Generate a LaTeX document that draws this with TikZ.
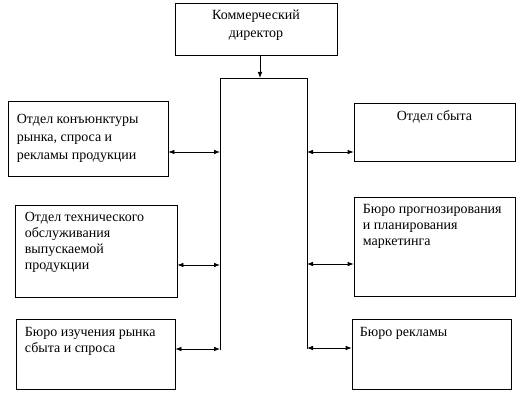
\documentclass[tikz,border=0pt]{standalone}
\usepackage{fontspec}
\setmainfont{Liberation Serif}
\usepackage{tikz}
\usetikzlibrary{fit,arrows.meta}

\tikzset{
  box/.style={draw, inner sep=0pt, line width=0.6pt},
  txt/.style={inner sep=0pt, align=left, anchor=north west, font=\fontsize{10.5}{12.2}\selectfont},
  dbl/.style={{Latex[length=4.5pt,width=3.5pt]}-{Latex[length=4.5pt,width=3.5pt]}, line width=0.6pt},
}

\begin{document}
\begin{tikzpicture}[x=0.75pt, y=-0.75pt]
    \useasboundingbox (0,0) rectangle (527,395);

    % 1. Коммерческий директор (верхний блок)
    \node[box, fit={(175,3) (337,55)}] (kd) {};
    \node[txt, align=center, anchor=north, font=\fontsize{10.5}{13.5}\selectfont] (kdtext) at ([shift={(0,7)}]kd.north) {Коммерческий\\директор};

    % 2. Шина: рамка без нижней стороны
    \coordinate (tl) at (220,78);
    \coordinate (tr) at (307,78);
    \coordinate (bl) at (220,350);
    \coordinate (br) at (307,349);
    \draw[line width=0.6pt] (bl) -- (tl) -- (tr) -- (br);
    \draw[line width=0.6pt, -{Latex[length=4.5pt,width=3.5pt]}] ([xshift=3pt]kd.south) -- ([xshift=3pt]kd.south |- tl);

    % 3. Левые отделы
    \node[box, fit={(8,101) (168,176)}] (o1) {};
    \node[txt, font=\fontsize{10.5}{13.8}\selectfont] (o1text) at ([shift={(9,13)}]o1.north west) {Отдел конъюнктуры\\рынка, спроса и\\рекламы продукции};

    \node[box, fit={(15,205) (177,297)}] (o2) {};
    \node[txt] (o2text) at ([shift={(10,7)}]o2.north west) {Отдел технического\\обслуживания\\выпускаемой\\продукции};

    \node[box, fit={(16,319) (175,389)}] (o3) {};
    \node[txt] (o3text) at ([shift={(9,8)}]o3.north west) {Бюро изучения рынка\\сбыта и спроса};

    % 4. Правые отделы
    \node[box, fit={(354,103) (515,161)}] (r1) {};
    \node[txt, anchor=north] (r1text) at ([shift={(0,8)}]r1.north) {Отдел сбыта};

    \node[box, fit={(354,197) (515,296)}] (r2) {};
    \node[txt] (r2text) at ([shift={(9,7)}]r2.north west) {Бюро прогнозирования\\и планирования\\маркетинга};

    \node[box, fit={(352,319) (511,389)}] (r3) {};
    \node[txt] (r3text) at ([shift={(8,8)}]r3.north west) {Бюро рекламы};

    % 5. Связи с шиной (стрелки в обе стороны)
    \coordinate (l1) at (220,152);
    \coordinate (l2) at (220,265);
    \coordinate (l3) at (220,349);
    \coordinate (p1) at (307,152);
    \coordinate (p2) at (307,264);
    \coordinate (p3) at (307,348);

    \draw[dbl] (o1.east |- l1) -- (l1);
    \draw[dbl] (o2.east |- l2) -- (l2);
    \draw[dbl] (o3.east |- l3) -- (l3);
    \draw[dbl] (p1) -- (r1.west |- p1);
    \draw[dbl] (p2) -- (r2.west |- p2);
    \draw[dbl] (p3) -- (r3.west |- p3);

\end{tikzpicture}
\end{document}
